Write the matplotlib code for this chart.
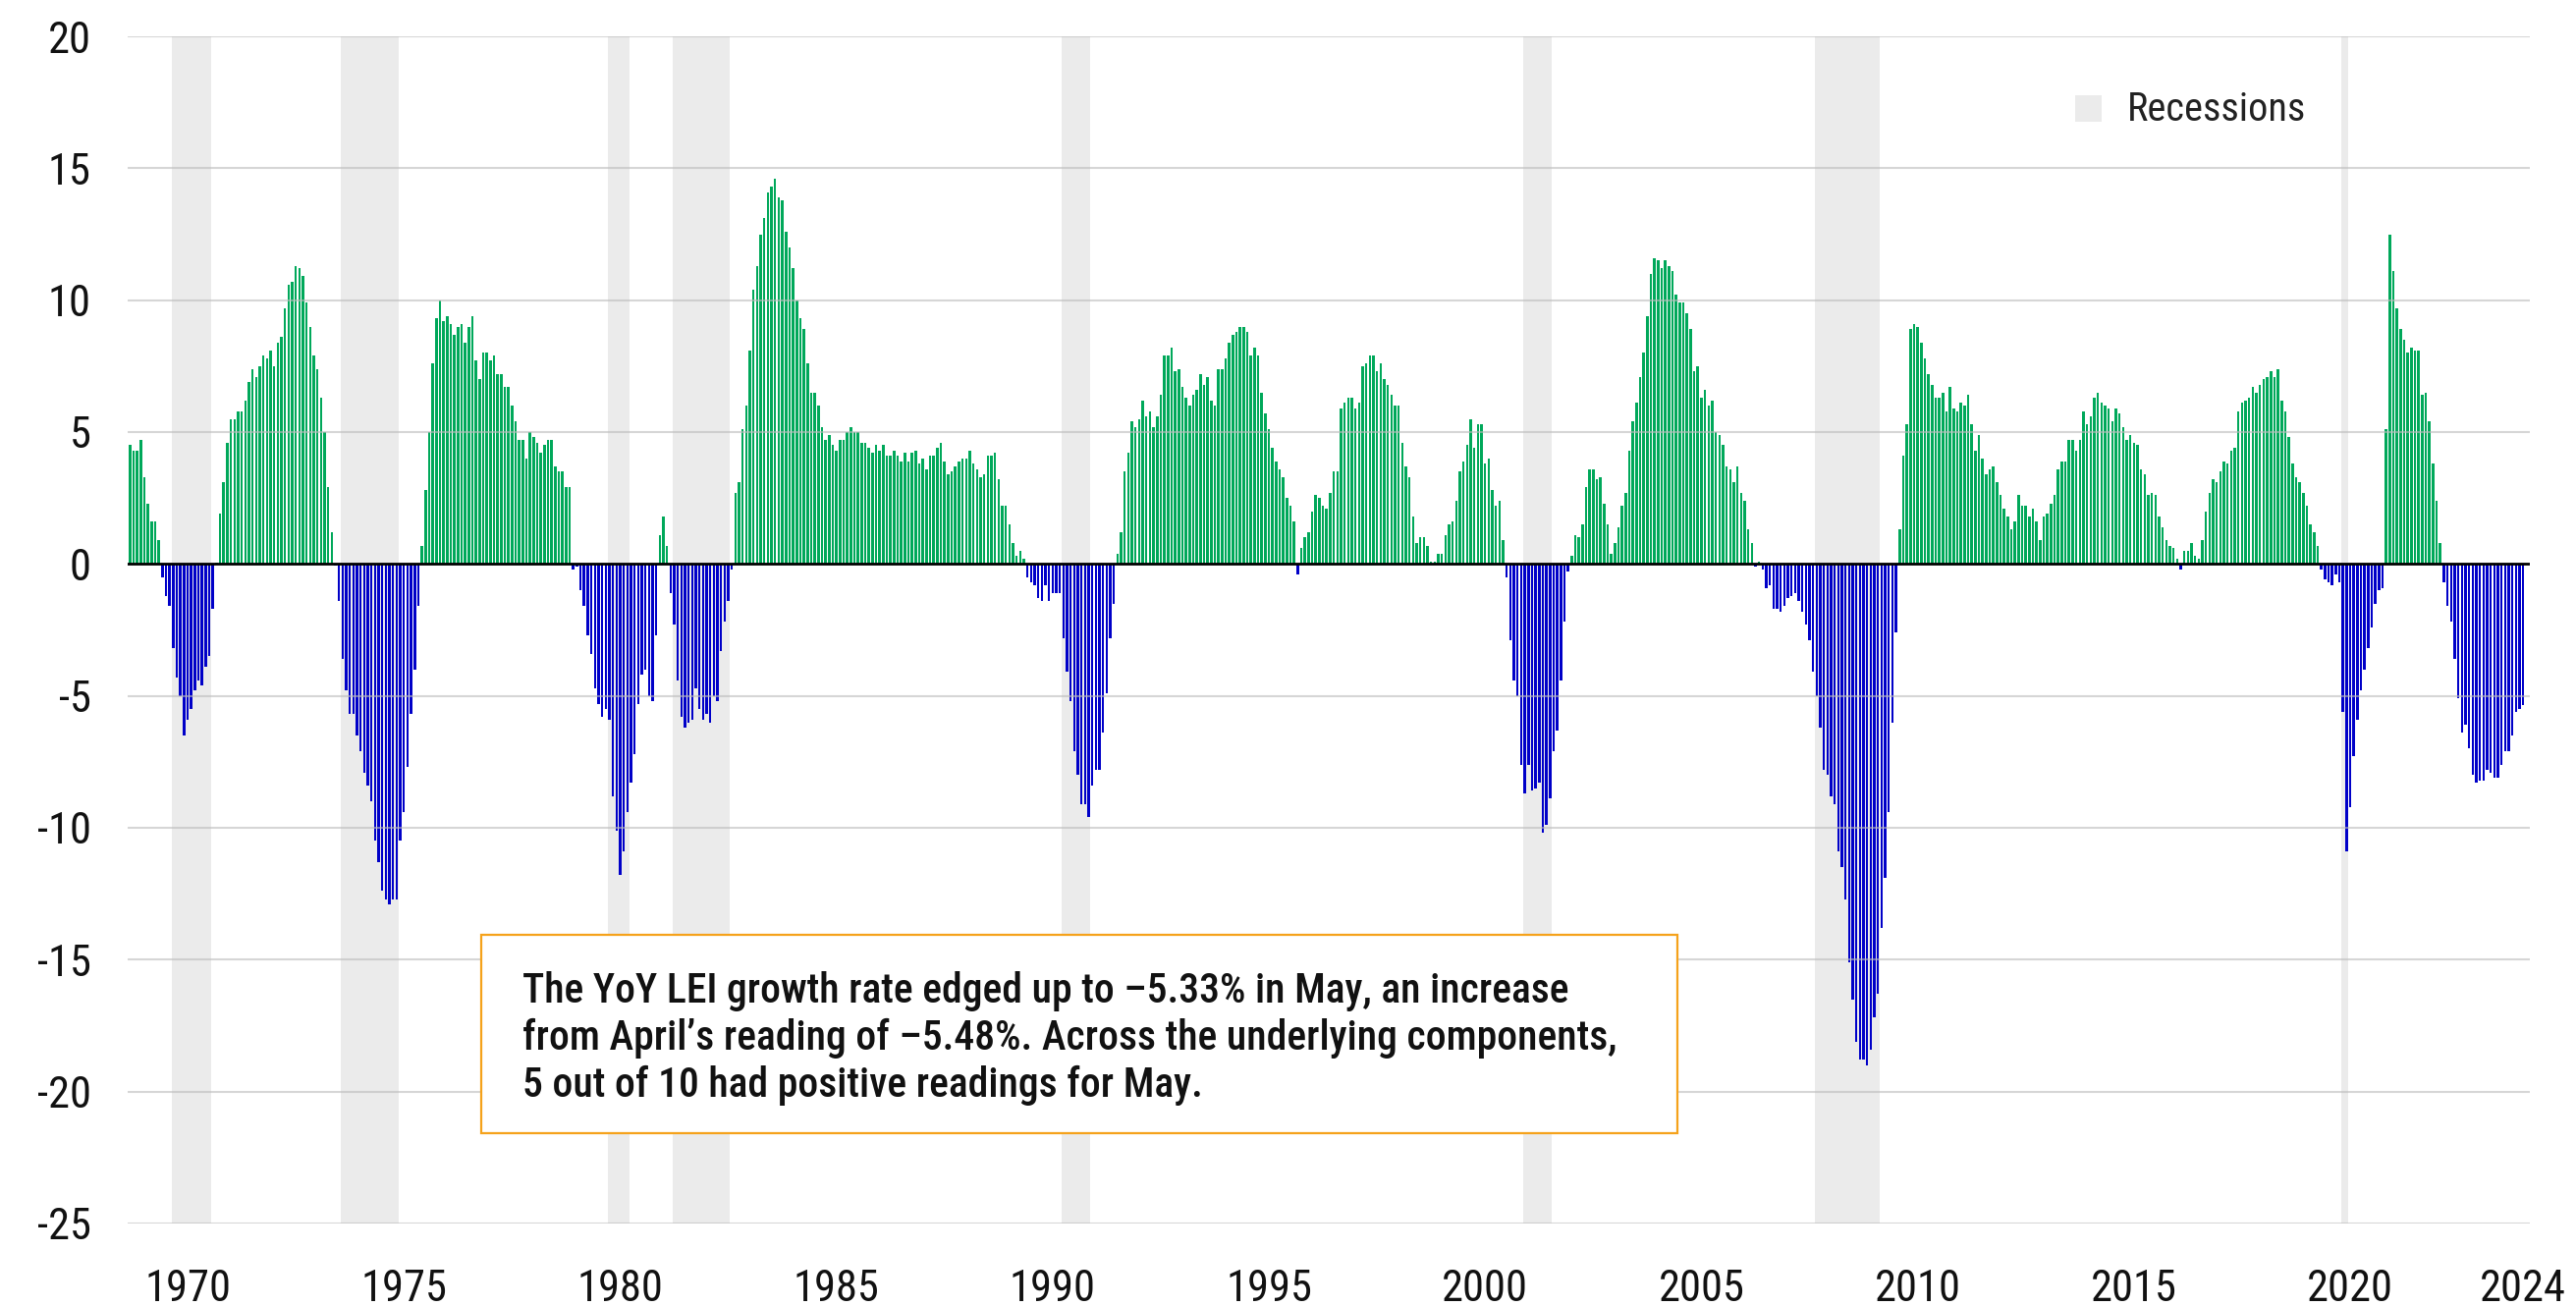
import numpy as np
import pandas as pd
import matplotlib
matplotlib.use('Agg')
import matplotlib.pyplot as plt
from matplotlib.patches import Rectangle

# YoY growth of the LEI (%), monthly, Jan 1969 .. May 2024
lei_1969_1979 = [
    4.5, 4.3, 4.3, 4.7, 3.3, 2.3, 1.6, 1.6, 0.9, -0.5, -1.2, -1.6,
    -3.2, -4.3, -5.0, -6.5, -5.9, -5.5, -4.8, -4.4, -4.6, -3.9, -3.5, -1.7,
    0.05, 1.9, 3.1, 4.6, 5.5, 5.5, 5.8, 5.8, 6.2, 6.9, 7.4, 7.1,
    7.5, 7.9, 7.8, 8.1, 7.5, 8.4, 8.6, 9.7, 10.6, 10.7, 11.3, 11.2,
    10.9, 9.9, 9.0, 7.9, 7.4, 6.3, 5.0, 2.9, 1.2, -0.05, -1.4, -3.6,
    -4.8, -5.7, -5.7, -6.5, -7.1, -7.9, -8.4, -9.0, -10.5, -11.3, -12.4, -12.7,
    -12.9, -12.7, -12.7, -10.5, -9.4, -7.7, -5.7, -4.0, -1.6, 0.7, 2.8, 5.0,
    7.6, 9.3, 10.0, 9.2, 9.4, 9.1, 8.7, 9.0, 9.1, 8.4, 9.0, 9.4,
    7.7, 7.0, 8.0, 8.0, 7.7, 7.9, 7.2, 7.2, 6.7, 6.7, 6.0, 5.4,
    4.7, 4.7, 4.0, 5.0, 4.8, 4.6, 4.2, 4.5, 4.7, 4.7, 3.7, 3.5,
    3.5, 2.9, 2.9, -0.2, -0.1, -1.0, -1.6, -2.7, -3.4, -4.7, -5.3, -5.8,
]
lei_1980s = [
    -5.5, -5.9, -8.8, -10.1, -11.8, -10.9, -9.4, -8.3, -7.2, -5.3, -4.2, -4.0,
    -5.0, -5.2, -2.7, 1.1, 1.8, 0.7, -1.1, -2.3, -4.4, -5.8, -6.2, -6.0,
    -5.9, -4.7, -5.5, -5.9, -5.7, -6.0, -5.0, -5.2, -3.3, -2.2, -1.4, -0.2,
    2.7, 3.1, 5.1, 6.0, 8.1, 10.4, 11.3, 12.5, 13.1, 14.1, 14.3, 14.6,
    13.9, 13.8, 12.6, 12.0, 11.2, 10.0, 9.3, 8.9, 7.6, 6.5, 6.5, 6.0,
    5.2, 4.7, 4.9, 4.5, 4.3, 4.7, 4.7, 5.0, 5.2, 5.0, 5.0, 4.6,
    4.6, 4.4, 4.2, 4.5, 4.3, 4.5, 4.1, 4.1, 4.3, 4.1, 3.9, 4.2,
    3.9, 4.2, 4.3, 3.8, 4.0, 3.6, 4.1, 4.1, 4.4, 4.6, 3.9, 3.4,
    3.5, 3.7, 3.9, 4.0, 4.0, 4.3, 3.8, 3.6, 3.3, 3.4, 4.1, 4.1,
    4.2, 3.2, 2.2, 2.2, 1.5, 0.8, 0.3, 0.5, 0.2, -0.5, -0.7, -0.8,
]
lei_1990s = [
    -1.3, -1.4, -0.8, -1.4, -1.1, -1.1, -1.1, -2.8, -4.1, -5.2, -7.1, -8.0,
    -9.1, -9.1, -9.6, -8.4, -7.8, -7.8, -6.4, -4.9, -2.8, -1.5, 0.4, 1.2,
    3.5, 4.2, 5.4, 5.2, 5.5, 6.2, 5.6, 5.8, 5.2, 5.6, 6.4, 7.9,
    7.9, 8.2, 7.3, 7.4, 6.7, 6.3, 6.0, 6.4, 6.6, 7.2, 6.8, 7.1,
    6.2, 6.0, 7.4, 7.4, 7.8, 8.4, 8.7, 8.8, 9.0, 9.0, 8.8, 7.9,
    8.2, 7.9, 6.5, 5.7, 5.1, 4.4, 3.9, 3.6, 3.3, 2.5, 2.2, 1.6,
    -0.4, 0.6, 1.0, 1.2, 2.0, 2.6, 2.5, 2.2, 2.1, 2.7, 3.5, 3.5,
    5.9, 6.1, 6.3, 6.3, 5.9, 6.1, 7.5, 7.6, 7.9, 7.9, 7.3, 7.6,
    7.0, 6.8, 6.4, 6.0, 6.0, 4.6, 3.7, 3.3, 1.8, 0.8, 1.0, 1.0,
    0.7, 0.1, 0.1, 0.4, 0.4, 1.1, 1.5, 1.6, 2.4, 3.5, 3.9, 4.5,
]
lei_2000s = [
    5.5, 4.4, 5.3, 5.3, 3.8, 4.0, 2.8, 2.2, 2.4, 0.9, -0.5, -2.9,
    -4.4, -5.0, -7.6, -8.7, -7.6, -8.6, -8.5, -8.3, -10.2, -9.9, -8.9, -7.1,
    -6.3, -4.4, -2.2, -0.3, 0.3, 1.1, 1.0, 1.5, 2.9, 3.6, 3.6, 3.2,
    3.3, 2.3, 1.5, 0.4, 0.8, 1.4, 2.2, 2.7, 4.3, 5.4, 6.1, 7.1,
    8.0, 9.4, 11.0, 11.6, 11.5, 11.2, 11.5, 11.3, 11.1, 10.2, 9.9, 9.9,
    9.5, 8.9, 7.3, 7.5, 6.3, 6.6, 6.0, 6.2, 5.0, 4.9, 4.5, 3.7,
    3.6, 3.1, 3.7, 2.7, 2.4, 1.3, 0.8, -0.1, 0.1, -0.2, -0.9, -0.8,
    -1.7, -1.7, -1.8, -1.6, -1.3, -1.2, -1.1, -1.4, -1.8, -2.3, -2.9, -4.1,
    -5.0, -6.2, -7.8, -8.0, -8.8, -9.1, -10.9, -11.5, -12.7, -15.1, -16.5, -18.1,
    -18.8, -18.8, -19.0, -18.4, -17.2, -16.3, -13.8, -11.9, -9.4, -6.0, -2.6, 1.3,
]
lei_2010s = [
    4.1, 5.3, 8.9, 9.1, 9.0, 8.4, 7.8, 7.2, 6.8, 6.3, 6.3, 6.5,
    5.8, 6.7, 5.9, 5.8, 6.1, 6.0, 6.4, 5.3, 4.3, 4.9, 4.0, 3.4,
    3.6, 3.7, 3.1, 2.6, 2.1, 1.8, 1.3, 1.6, 2.6, 2.2, 2.2, 1.8,
    2.1, 1.6, 0.9, 1.8, 1.9, 2.3, 2.6, 3.6, 3.9, 3.9, 4.7, 4.7,
    4.3, 4.7, 5.8, 5.3, 5.6, 6.3, 6.5, 6.1, 6.0, 5.9, 5.4, 5.9,
    5.7, 5.2, 4.7, 4.9, 4.6, 4.5, 3.6, 3.4, 2.6, 2.7, 2.6, 1.8,
    1.4, 0.9, 0.7, 0.6, 0.2, -0.2, 0.5, 0.5, 0.8, 0.3, 0.2, 0.9,
    2.0, 2.7, 3.2, 3.1, 3.5, 3.9, 3.8, 4.3, 4.4, 5.8, 6.1, 6.2,
    6.3, 6.7, 6.5, 6.8, 7.0, 7.1, 7.3, 7.1, 7.4, 6.2, 5.8, 4.8,
    3.8, 3.3, 3.1, 2.7, 2.2, 1.5, 1.2, 0.7, -0.2, -0.6, -0.7, -0.8,
]
lei_2020s = [
    -0.4, -0.7, -5.6, -10.9, -9.2, -7.3, -5.9, -4.8, -4.0, -3.2, -2.4, -1.5,
    -1.0, -0.9, 5.1, 12.5, 11.1, 9.7, 8.9, 8.5, 8.0, 8.2, 8.1, 8.1,
    6.4, 6.5, 5.4, 3.8, 2.4, 0.8, -0.7, -1.6, -2.2, -3.6, -5.1, -6.4,
    -6.1, -7.0, -8.0, -8.3, -8.2, -8.2, -7.8, -7.9, -8.1, -8.1, -7.6, -7.1,
    -7.1, -6.5, -5.6, -5.48, -5.33,
]

# NBER recessions (peak month, trough month)
rec_start = ['1969-12', '1973-11', '1980-01', '1981-07', '1990-07', '2001-03', '2007-12', '2020-02']
rec_end = ['1970-11', '1975-03', '1980-07', '1982-11', '1991-03', '2001-11', '2009-06', '2020-04']

tick_years = [1970, 1975, 1980, 1985, 1990, 1995, 2000, 2005, 2010, 2015, 2020, 2024]
y_ticks = [20, 15, 10, 5, 0, -5, -10, -15, -20, -25]

note = ['The YoY LEI growth rate edged up to \u20135.33% in May, an increase',
        'from April\u2019s reading of \u20135.48%. Across the underlying components,',
        '5 out of 10 had positive readings for May.']

GREEN, BLUE, SHADE = '#00a85a', '#0000c8', '#ebebeb'
plt.rcParams['font.family'] = ['Roboto Condensed', 'Liberation Sans', 'DejaVu Sans']

values = np.array(lei_1969_1979 + lei_1980s + lei_1990s + lei_2000s + lei_2010s + lei_2020s)
months = pd.period_range('1969-01', periods=len(values), freq='M')
x = np.arange(len(values))
t0 = months[0]

def midx(s):
    return (pd.Period(s, freq='M') - t0).n

fig = plt.figure(figsize=(26.23, 13.30), dpi=100)
ax = fig.add_axes([0.04975, 0.06316, 0.93252, 0.90902])

for s, e in zip(rec_start, rec_end):
    ax.axvspan(midx(s) + 0.5, midx(e) + 0.5, color=SHADE, lw=0, zorder=0)

colors = np.where(values >= 0, GREEN, BLUE)
ax.bar(x, values, width=0.68, color=colors, lw=0, zorder=2)

for v in y_ticks:
    if v != 0:
        ax.axhline(v, color='#bbbbbb', alpha=0.6, lw=1.5, zorder=3)
ax.axhline(0, color='black', lw=2.0, zorder=4)

ax.set_ylim(-25, 20)
ax.set_xlim(-0.5, 666)
ax.set_yticks(y_ticks)
ax.set_yticklabels([str(v) for v in y_ticks])
ax.set_xticks([midx(f'{y}-05') for y in tick_years])
ax.set_xticklabels([str(y) for y in tick_years])
ax.tick_params(length=0, labelsize=32, colors='#111111')
ax.tick_params(axis='y', pad=27)
ax.tick_params(axis='x', pad=33)
for sp in ax.spines.values():
    sp.set_visible(False)

# legend
fig.patches.append(Rectangle((2113 / 2623, 1 - 124 / 1330), 27 / 2623, 27 / 1330,
                             transform=fig.transFigure, color=SHADE, lw=0))
fig.text(2166 / 2623, 1 - 123 / 1330, 'Recessions', fontsize=29, color='#222222',
         va='baseline', ha='left')

# note box
fig.patches.append(Rectangle((490 / 2623, 1 - 1154 / 1330), 1218 / 2623, 202 / 1330,
                             transform=fig.transFigure, facecolor='white',
                             edgecolor='#f5a21b', lw=1.6, zorder=5))
for i, line in enumerate(note):
    fig.text(532 / 2623, 1 - (1021 + 48 * i) / 1330, line, fontsize=30,
             fontweight='medium', color='#111111', va='baseline', ha='left', zorder=6)

fig.savefig('out.png', dpi=100)
